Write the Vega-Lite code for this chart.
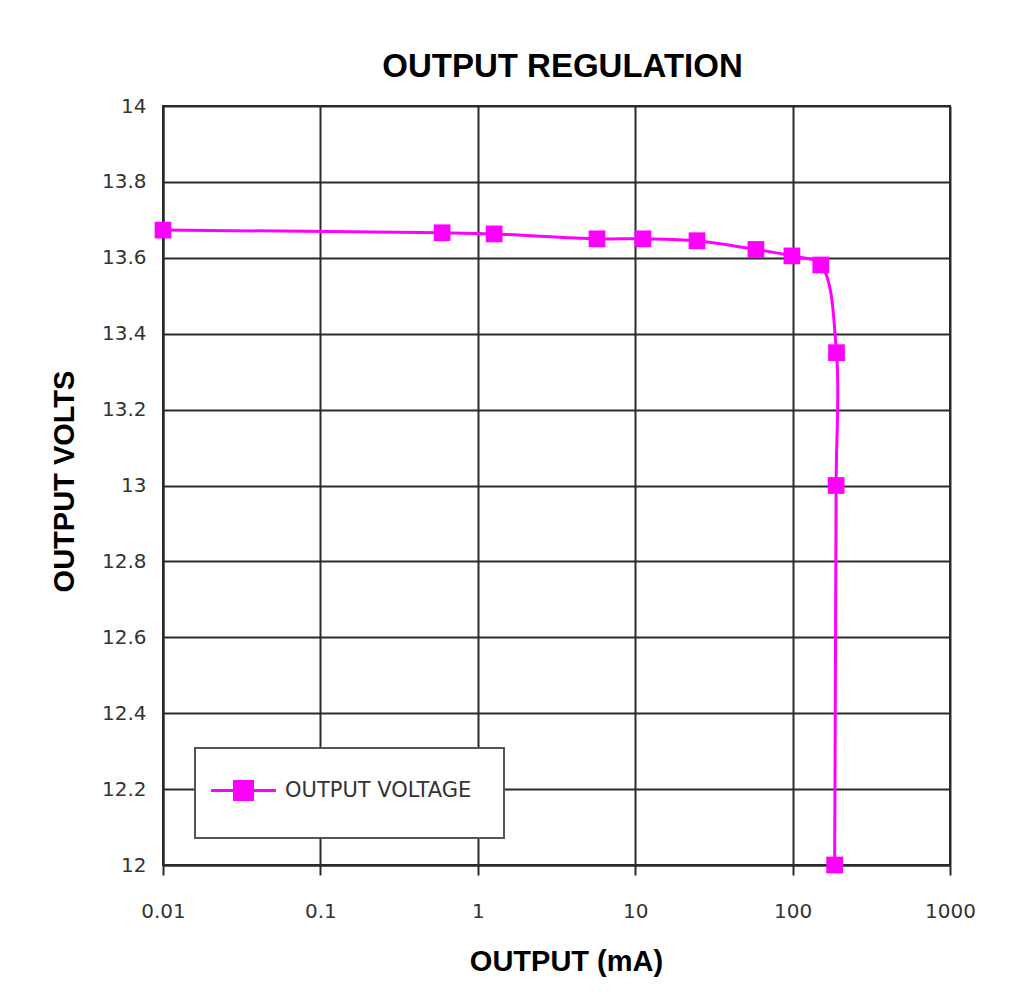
{
  "$schema": "https://vega.github.io/schema/vega-lite/v6.json",
  "width": 787,
  "height": 759,
  "autosize": {"type": "none"},
  "padding": {"left": 163, "top": 106, "right": 73, "bottom": 143},
  "background": "white",
  "title": {
    "text": "OUTPUT REGULATION",
    "font": "Liberation Sans",
    "fontSize": 33,
    "fontWeight": "bold",
    "color": "#000000",
    "anchor": "middle",
    "baseline": "alphabetic",
    "dx": 6,
    "dy": 43,
    "offset": 29
  },
  "data": {
    "values": [
      {"current": 0.01, "volts": 13.673, "series": "OUTPUT VOLTAGE"},
      {"current": 0.593, "volts": 13.666, "series": "OUTPUT VOLTAGE"},
      {"current": 1.27, "volts": 13.663, "series": "OUTPUT VOLTAGE"},
      {"current": 5.72, "volts": 13.65, "series": "OUTPUT VOLTAGE"},
      {"current": 11.2, "volts": 13.65, "series": "OUTPUT VOLTAGE"},
      {"current": 24.7, "volts": 13.645, "series": "OUTPUT VOLTAGE"},
      {"current": 58.5, "volts": 13.622, "series": "OUTPUT VOLTAGE"},
      {"current": 99, "volts": 13.605, "series": "OUTPUT VOLTAGE"},
      {"current": 151, "volts": 13.581, "series": "OUTPUT VOLTAGE"},
      {"current": 190, "volts": 13.35, "series": "OUTPUT VOLTAGE"},
      {"current": 189, "volts": 13.0, "series": "OUTPUT VOLTAGE"},
      {"current": 185, "volts": 12.0, "series": "OUTPUT VOLTAGE"}
    ]
  },
  "encoding": {
    "x": {
      "field": "current",
      "type": "quantitative",
      "scale": {"type": "log", "domain": [0.01, 1000], "nice": false},
      "axis": {
        "title": "OUTPUT (mA)",
        "values": [0.01, 0.1, 1, 10, 100, 1000],
        "format": "~g",
        "grid": true,
        "gridColor": "#2a2a2a",
        "gridWidth": 2,
        "gridOpacity": 1,
        "domainColor": "#2a2a2a",
        "domainWidth": 2,
        "ticks": true,
        "tickSize": 10,
        "tickWidth": 2,
        "tickColor": "#2a2a2a",
        "labelFont": "DejaVu Sans",
        "labelFontSize": 20,
        "labelColor": "#333333",
        "labelPadding": 26,
        "labelFlush": false,
        "titleFont": "Liberation Sans",
        "titleFontSize": 29,
        "titleFontWeight": "bold",
        "titleColor": "#000000",
        "titleX": 403,
        "titleY": 105,
        "titleAlign": "center",
        "titleBaseline": "alphabetic",
        "titleAnchor": null
      }
    },
    "y": {
      "field": "volts",
      "type": "quantitative",
      "scale": {"domain": [12, 14], "nice": false, "zero": false},
      "axis": {
        "title": "OUTPUT VOLTS",
        "values": [12, 12.2, 12.4, 12.6, 12.8, 13, 13.2, 13.4, 13.6, 13.8, 14],
        "format": "~g",
        "grid": true,
        "gridColor": "#2a2a2a",
        "gridWidth": 2,
        "gridOpacity": 1,
        "domainColor": "#2a2a2a",
        "domainWidth": 2,
        "ticks": false,
        "labelFont": "DejaVu Sans",
        "labelFontSize": 20,
        "labelColor": "#333333",
        "labelPadding": 17,
        "labelFlush": false,
        "titleFont": "Liberation Sans",
        "titleFontSize": 29,
        "titleFontWeight": "bold",
        "titleColor": "#000000",
        "titleAngle": -90,
        "titleX": -99,
        "titleY": 375,
        "titleAlign": "center",
        "titleBaseline": "middle",
        "titleAnchor": null
      }
    },
    "color": {
      "field": "series",
      "type": "nominal",
      "scale": {"range": ["#ff00ff"]},
      "legend": {
        "title": null,
        "orient": "none",
        "legendX": 32,
        "legendY": 642,
        "padding": 32,
        "fillColor": "#ffffff",
        "strokeColor": "#555555",
        "symbolType": "M-3.6,0H3.6M-1,-1H1V1H-1Z",
        "symbolSize": 324,
        "symbolOffset": 6,
        "symbolStrokeWidth": 3,
        "labelOffset": 31,
        "labelFont": "DejaVu Sans",
        "labelFontSize": 21,
        "labelColor": "#333333",
        "labelLimit": 400,
        "encode": {
          "legend": {
            "update": {
              "strokeWidth": {"value": 2}
            }
          },
          "symbols": {
            "update": {
              "fill": {"value": "#ff00ff"},
              "stroke": {"value": "#ff00ff"},
              "strokeWidth": {"value": 3},
              "opacity": {"value": 1}
            }
          }
        }
      }
    }
  },
  "layer": [
    {
      "mark": {"type": "line", "interpolate": "catmull-rom", "strokeWidth": 3},
      "encoding": {"order": {"value": null}}
    },
    {
      "mark": {"type": "point", "shape": "square", "filled": true, "size": 280, "opacity": 1}
    }
  ],
  "config": {
    "view": {"stroke": "#2a2a2a", "strokeWidth": 2}
  }
}
